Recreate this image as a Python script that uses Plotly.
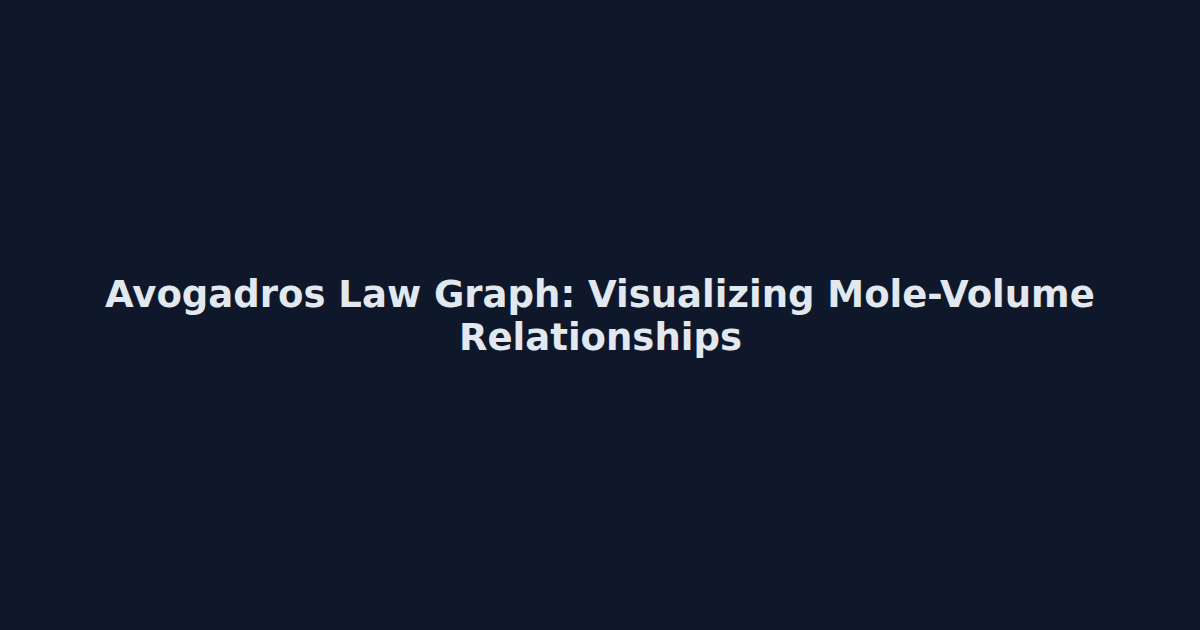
import plotly.graph_objects as go

# Title card text, one entry per line
title_lines = ["Avogadros Law Graph: Visualizing Mole-Volume", "Relationships"]
line_y = [0.533, 0.465]  # paper position of each line

bg_color = "#0f172a"
text_color = "#e2e8f0"

fig = go.Figure()

for txt, y in zip(title_lines, line_y):
    fig.add_annotation(
        x=0.5, y=y, xref="paper", yref="paper",
        xanchor="center", yanchor="middle",
        text=txt,
        showarrow=False,
        font=dict(family="DejaVu Sans", size=37, color=text_color, weight="bold"),
    )

fig.update_layout(
    width=1200, height=630,
    paper_bgcolor=bg_color, plot_bgcolor=bg_color,
    margin=dict(l=0, r=0, t=0, b=0),
    xaxis=dict(visible=False),
    yaxis=dict(visible=False),
    showlegend=False,
)

fig.write_html(
    "out.html",
    config={"displayModeBar": False},
    post_script="document.body.style.margin='0';document.body.style.background='#0f172a';",
)
